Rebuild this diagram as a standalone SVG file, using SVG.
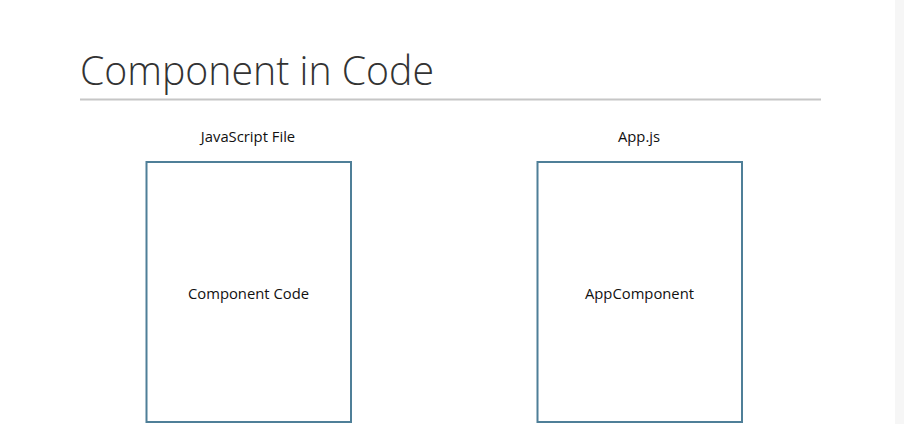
<svg xmlns="http://www.w3.org/2000/svg" width="904" height="424" viewBox="0 0 904 424">
<style>
.box{fill:#ffffff;stroke:#4f7f98;stroke-width:2}
.lbl{font-family:"Open Sans","Liberation Sans",sans-serif;font-size:14.8px;fill:#111;text-anchor:middle}
</style>
<rect width="904" height="424" fill="#ffffff"/>
<rect x="895" y="0" width="9" height="424" fill="#f6f6f6"/>
<text x="80" y="85" font-family="'Open Sans','Liberation Sans',sans-serif" font-weight="300" font-size="41" fill="#333" textLength="354" lengthAdjust="spacingAndGlyphs">Component in Code</text>
<line x1="80" y1="99.5" x2="821" y2="99.5" stroke="#c6c6c6" stroke-width="2"/>
<g id="js-file">
<text class="lbl" x="248" y="142">JavaScript File</text>
<rect class="box" x="146.5" y="162" width="204.5" height="260"/>
<text class="lbl" x="248.5" y="299">Component Code</text>
</g>
<g id="app-js">
<text class="lbl" x="639" y="142">App.js</text>
<rect class="box" x="537.5" y="162" width="204.5" height="260"/>
<text class="lbl" x="639.5" y="299">AppComponent</text>
</g>
<g id="connectors"></g>
</svg>
